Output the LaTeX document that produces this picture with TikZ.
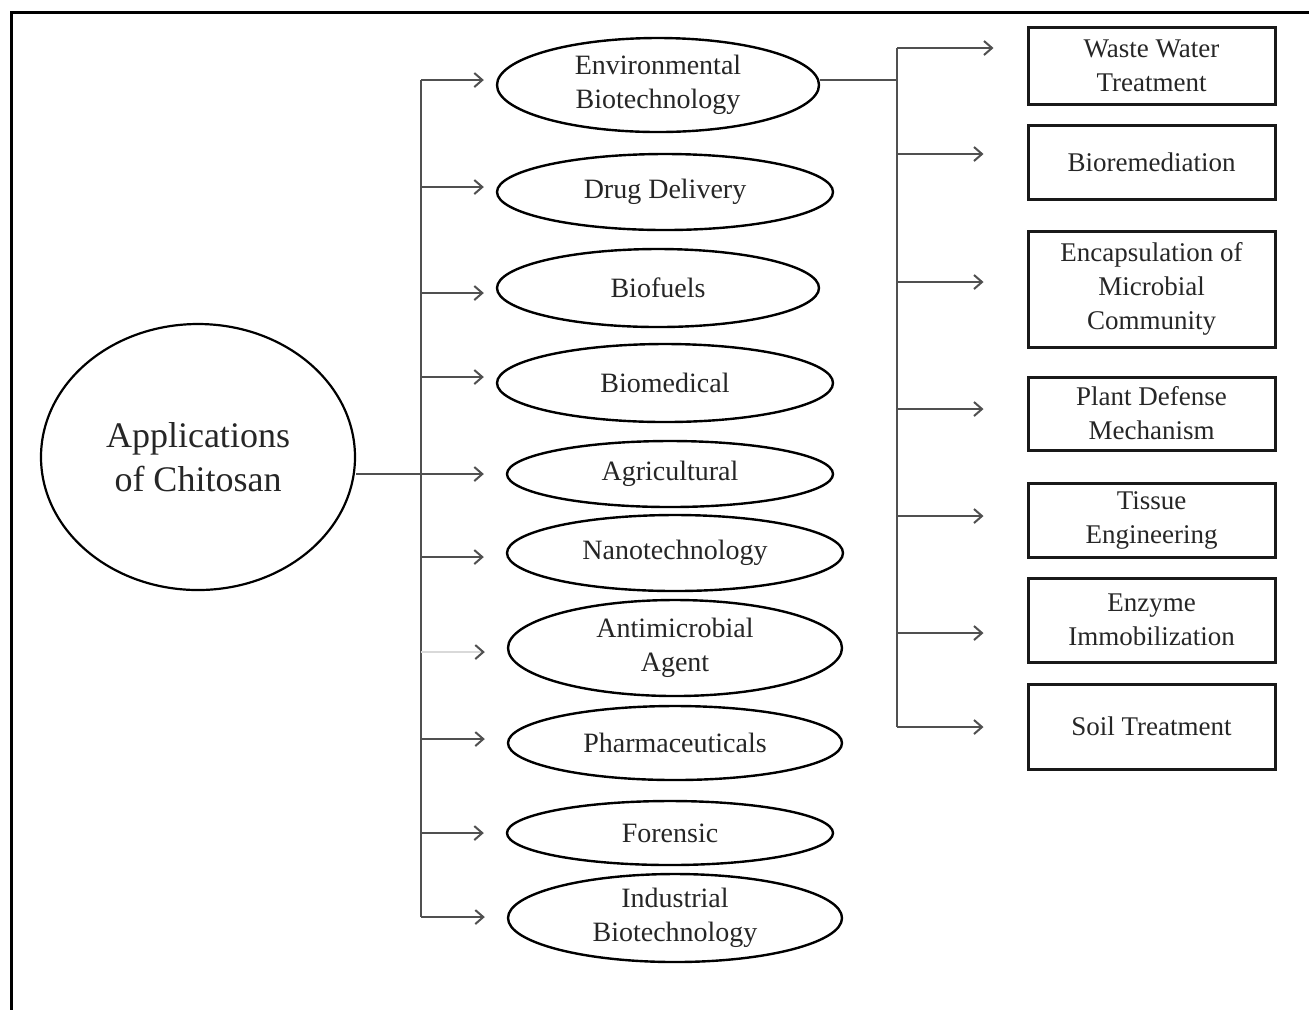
\documentclass[tikz,border=0pt]{standalone}
\usepackage{fontspec}
\setmainfont{Liberation Serif}
\usetikzlibrary{shapes.geometric,arrows.meta}
\definecolor{txt}{HTML}{262626}
\definecolor{conn}{HTML}{505050}
\tikzset{
  oval/.style={ellipse, draw=black, line width=1.2pt, inner sep=0pt, align=center,
    text=txt, font=\fontsize{14pt}{17pt}\selectfont},
  rbox/.style={rectangle, draw=black!90, line width=1.5pt, inner sep=0pt, align=center,
    text=txt, minimum width=123.5pt, font=\fontsize{13.5pt}{17pt}\selectfont},
  mainov/.style={ellipse, draw=black, line width=1.1pt, inner sep=0pt, align=center,
    text=txt, font=\fontsize{18pt}{22pt}\selectfont},
  conline/.style={draw=conn, line width=1pt},
  arr/.style={conline, -{Straight Barb[length=4pt,width=7pt,line width=1pt,color=conn]}},
}
\begin{document}
\begin{tikzpicture}[x=0.5pt,y=-0.5pt]
\useasboundingbox (0,0) rectangle (1309,1009);
\fill[white] (0,0) rectangle (1309,1009);
% frame
\draw[line width=1.5pt] (11,1012) -- (11,12) -- (1312,12);

% main
\node[mainov, minimum width=157pt, minimum height=133pt] (main) at (198,457) {Applications\\of Chitosan};

% middle ellipses
\node[oval, minimum width=161pt, minimum height=47pt] (env) at (658,85) {Environmental\\Biotechnology};
\node[oval, minimum width=168pt, minimum height=38pt] (drug) at (665,192) {Drug Delivery};
\node[oval, minimum width=161pt, minimum height=39pt] (fuel) at (658,288) {Biofuels};
\node[oval, minimum width=168pt, minimum height=39pt] (med) at (665,383) {Biomedical};
\node[oval, minimum width=163pt, minimum height=33pt] (agri) at (670,474) {Agricultural};
\node[oval, minimum width=168pt, minimum height=38pt] (nano) at (675,553) {Nanotechnology};
\node[oval, minimum width=167pt, minimum height=48pt] (anti) at (675,648) {Antimicrobial\\Agent};
\node[oval, minimum width=167pt, minimum height=37pt] (pharm) at (675,743) {Pharmaceuticals};
\node[oval, minimum width=163pt, minimum height=32pt] (foren) at (670,833) {Forensic};
\node[oval, minimum width=167pt, minimum height=44pt] (indus) at (675,918) {Industrial\\Biotechnology};

% right boxes
\node[rbox, minimum height=38.5pt] (waste) at (1151.5,65.5) {Waste Water\\Treatment};
\node[rbox, minimum height=37pt] (biorem) at (1151.5,162) {Bioremediation};
\node[rbox, minimum height=58pt] (encap) at (1151.5,289) {Encapsulation of\\Microbial\\Community};
\node[rbox, minimum height=36.5pt] (plant) at (1151.5,413.5) {Plant Defense\\Mechanism};
\node[rbox, minimum height=37pt] (tissue) at (1151.5,520) {Tissue\\Engineering};
\node[rbox, minimum height=42pt] (enzyme) at (1151.5,620) {Enzyme\\Immobilization};
\node[rbox, minimum height=42.5pt] (soil) at (1151.5,726.5) {Soil Treatment};

% left bus
\coordinate (b1) at (421,80);
\coordinate (b2) at (421,187);
\coordinate (b3) at (421,293);
\coordinate (b4) at (421,377);
\coordinate (b6) at (421,557);
\coordinate (b7) at (421,652);
\coordinate (b8) at (421,739);
\coordinate (b9) at (421,833);
\coordinate (b10) at (421,917);
\draw[conline] (b1) -- (b10);
\draw[arr, shorten >=6pt] (b1) -- (b1 -| env.west);
\draw[arr, shorten >=6pt] (b2) -- (b2 -| drug.west);
\draw[arr, shorten >=6pt] (b3) -- (b3 -| fuel.west);
\draw[arr, shorten >=6pt] (b4) -- (b4 -| med.west);
\draw[arr, shorten >=11pt] (b6) -- (b6 -| nano.west);
\draw[arr, draw=black!15, shorten >=11pt] (b7) -- (b7 -| anti.west);
\draw[arr, shorten >=11pt] (b8) -- (b8 -| pharm.west);
\draw[arr, shorten >=11pt] (b9) -- (b9 -| foren.west);
\draw[arr, shorten >=11pt] (b10) -- (b10 -| indus.west);

% main to agricultural
\draw[arr, shorten >=11pt] (main.east |- agri.west) -- (agri.west);

% right bus
\coordinate (r1) at (897,48);
\coordinate (r2) at (897,154);
\coordinate (r3) at (897,282);
\coordinate (r4) at (897,409);
\coordinate (r5) at (897,516);
\coordinate (r6) at (897,633);
\coordinate (r7) at (897,727);
\coordinate (renv) at (897,80);
\draw[conline] (r1) -- (r7);
\draw[conline] (env.east |- renv) -- (renv);
\draw[arr, shorten >=16.5pt] (r1) -- (r1 -| waste.west);
\draw[arr, shorten >=21.5pt] (r2) -- (r2 -| biorem.west);
\draw[arr, shorten >=21.5pt] (r3) -- (r3 -| encap.west);
\draw[arr, shorten >=21.5pt] (r4) -- (r4 -| plant.west);
\draw[arr, shorten >=21.5pt] (r5) -- (r5 -| tissue.west);
\draw[arr, shorten >=21.5pt] (r6) -- (r6 -| enzyme.west);
\draw[arr, shorten >=21.5pt] (r7) -- (r7 -| soil.west);
\end{tikzpicture}
\end{document}
